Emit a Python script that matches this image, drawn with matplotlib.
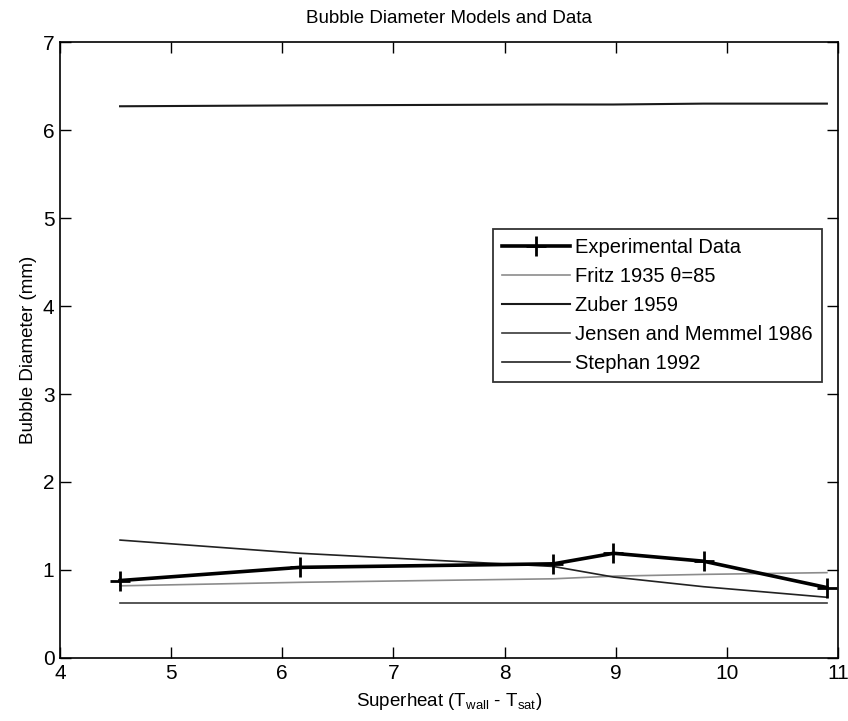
import matplotlib
matplotlib.use("Agg")
import matplotlib.pyplot as plt

plt.rcParams['font.family'] = ['Liberation Sans Narrow', 'Liberation Sans', 'DejaVu Sans']
plt.rcParams['mathtext.default'] = 'regular'

# Data
superheat = [4.54, 6.16, 8.44, 8.98, 9.79, 10.90]
experimental = [0.88, 1.03, 1.07, 1.19, 1.10, 0.80]
fritz = [0.82, 0.86, 0.90, 0.93, 0.95, 0.97]
zuber = [6.27, 6.28, 6.29, 6.29, 6.30, 6.30]
jensen = [0.63, 0.63, 0.63, 0.63, 0.63, 0.63]
stephan = [1.34, 1.19, 1.04, 0.92, 0.81, 0.69]

labels = ['Experimental Data', 'Fritz 1935 \u03b8=85', 'Zuber 1959',
          'Jensen and Memmel 1986', 'Stephan 1992']
xticks = [4, 5, 6, 7, 8, 9, 10, 11]
yticks = [0, 1, 2, 3, 4, 5, 6, 7]

fig = plt.figure(figsize=(8.48, 7.21), dpi=100)
ax = fig.add_axes([0.0708, 0.0874, 0.9174, 0.8543])

ax.plot(superheat, experimental, color='black', lw=2.6, marker='+',
        markersize=14, markeredgewidth=2, label=labels[0], zorder=5)
ax.plot(superheat, fritz, color='#8c8c8c', lw=1.2, label=labels[1])
ax.plot(superheat, zuber, color='#1a1a1a', lw=1.5, label=labels[2])
ax.plot(superheat, jensen, color='#3a3a3a', lw=1.2, label=labels[3])
ax.plot(superheat, stephan, color='#222222', lw=1.2, label=labels[4])

ax.set_xlim(4, 11)
ax.set_ylim(0, 7)
ax.set_xticks(xticks)
ax.set_yticks(yticks)
ax.tick_params(direction='in', length=8, width=1, top=True, right=True,
               labelsize=15, pad=4)
for s in ax.spines.values():
    s.set_linewidth(1.2)

ax.set_title('Bubble Diameter Models and Data', fontsize=13.5, pad=14)
ax.set_xlabel('Superheat (T$_{wall}$ - T$_{sat}$)', fontsize=13.5, labelpad=6)
ax.set_ylabel('Bubble Diameter (mm)', fontsize=13.5, labelpad=4)

leg = ax.legend(loc='upper left', bbox_to_anchor=(0.556, 0.697), fontsize=14.5,
                frameon=True, fancybox=False, edgecolor='black',
                handlelength=3.4, borderpad=0.45, labelspacing=0.5,
                handletextpad=0.25, borderaxespad=0)
leg.get_frame().set_linewidth(1.3)

fig.savefig('out.png', dpi=100)
